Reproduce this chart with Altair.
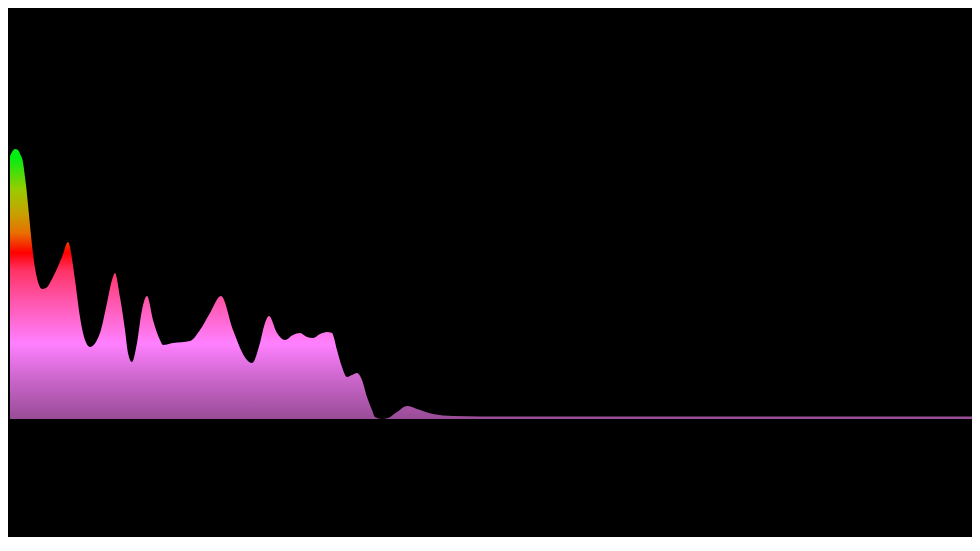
import altair as alt
import pandas as pd

# Frequency bin position along x and spectrum magnitude
freq = [0, 2, 5, 8, 11, 12, 16, 19, 22, 25, 28, 32, 36, 43, 52, 58, 65, 70, 75, 80,
        90, 97, 102, 105, 110, 115, 118, 122, 127, 132, 137, 143, 150, 153, 163, 180,
        190, 200, 211, 223, 237, 242, 250, 255, 259, 267, 275, 283, 290, 297, 303, 310,
        317, 322, 327, 332, 337, 342, 347, 352, 357, 362, 365, 372, 378, 387, 397, 407,
        423, 443, 470, 962]
magnitude = [263, 267, 270, 269, 263, 261, 234, 204, 174, 151, 137, 130, 131, 142, 162,
             177, 139, 102, 79, 72, 86, 116, 139, 146, 122, 89, 66, 57, 76, 109, 123, 99,
             79, 74, 76, 78, 89, 106, 123, 89, 59, 56, 76, 96, 103, 86, 79, 84, 86, 82,
             81, 85, 87, 86, 69, 52, 42, 44, 46, 39, 22, 9, 2, 0, 1, 7, 13, 10, 5, 3,
             2.5, 2.5]

df = pd.DataFrame({"freq": freq, "magnitude": magnitude})

grad = alt.Gradient(
    gradient="linear",
    x1=0, y1=0, x2=0, y2=1,
    stops=[
        alt.GradientStop(color="#00ee11", offset=0.03),
        alt.GradientStop(color="#99cc00", offset=0.15),
        alt.GradientStop(color="#c8a000", offset=0.24),
        alt.GradientStop(color="#e87000", offset=0.31),
        alt.GradientStop(color="#ff0000", offset=0.385),
        alt.GradientStop(color="#ff3366", offset=0.45),
        alt.GradientStop(color="#ff55aa", offset=0.56),
        alt.GradientStop(color="#ff80ff", offset=0.72),
        alt.GradientStop(color="#cc66cc", offset=0.85),
        alt.GradientStop(color="#984c96", offset=1.0),
    ],
)

chart = (
    alt.Chart(df)
    .mark_area(color=grad, interpolate="monotone")
    .encode(
        x=alt.X("freq:Q", scale=alt.Scale(domain=[0, 962], nice=False, zero=False), axis=None),
        y=alt.Y("magnitude:Q", scale=alt.Scale(domain=[0, 411], nice=False), axis=None),
    )
    .properties(
        width=962,
        height=411,
        background="#000000",
        padding={"left": 2, "top": 0, "right": 0, "bottom": 118},
        autosize=alt.AutoSizeParams(type="none"),
        usermeta={"embedOptions": {"defaultStyle": "html,body{background:#000;}"}},
    )
    .configure_view(stroke=None, fill="#000000")
)

chart.save("out.html", embed_options={"renderer": "svg", "actions": False})
